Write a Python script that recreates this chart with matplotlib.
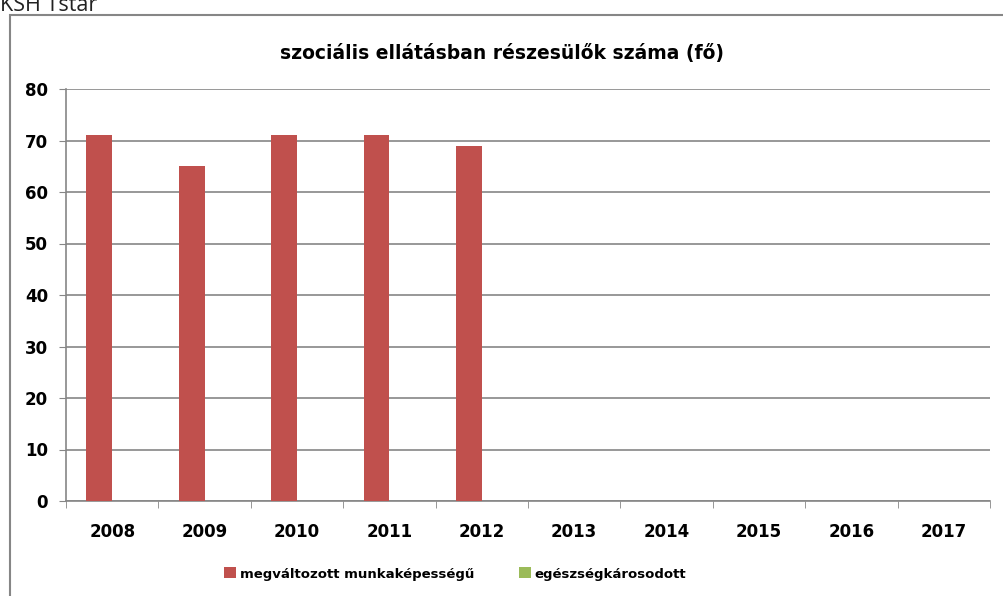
import matplotlib
matplotlib.use('Agg')
import matplotlib.pyplot as plt
from matplotlib.patches import Rectangle

# adatok
evek = ['2008', '2009', '2010', '2011', '2012', '2013', '2014', '2015', '2016', '2017']
megvaltozott = [71, 65, 71, 71, 69, None, None, None, None, None]
egeszsegkarosodott = [None] * 10

cim = 'szociális ellátásban részesülők száma (fő)'
sorozatok = ['megváltozott munkaképességű', 'egészségkárosodott']

PIROS = '#C0504D'
ZOLD = '#9BBB59'
SZURKE = '#868686'

plt.rcParams['font.family'] = ['DejaVu Sans']

fig = plt.figure(figsize=(10.04, 5.96), dpi=100)

# diagram kerete
fig.add_artist(Rectangle((10 / 1004, -0.1), 1.1, 1 - 15 / 596 + 0.1,
                         transform=fig.transFigure, fill=False,
                         edgecolor=SZURKE, linewidth=1.5))
fig.text(0.0, 1 - 11 / 596, 'KSH Tstar', fontsize=15.5, color='#222222',
         ha='left', va='baseline', family='Open Sans')

ax = fig.add_axes([66 / 1004, 1 - 501 / 596, (990 - 66) / 1004, (501 - 89) / 596])

x = list(range(len(evek)))
y1 = [v if v is not None else 0 for v in megvaltozott]
y2 = [v if v is not None else 0 for v in egeszsegkarosodott]
w = 0.28
ax.bar([i - w / 2 for i in x], y1, width=w, color=PIROS, label=sorozatok[0], zorder=3)
ax.bar([i + w / 2 for i in x], y2, width=w, color=ZOLD, label=sorozatok[1], zorder=3)

ax.set_xlim(-0.5, len(evek) - 0.5)
ax.set_ylim(0, 80)
ax.set_yticks(range(0, 81, 10))
ax.set_xticks(x)
ax.set_xticklabels(evek)
ax.set_xticks([i - 0.5 for i in range(len(evek) + 1)], minor=True)
ax.tick_params(axis='x', which='major', length=0, pad=16)
ax.tick_params(axis='x', which='minor', length=5, color=SZURKE, direction='out')
ax.tick_params(axis='y', length=5, color=SZURKE, pad=8)
for lab in ax.get_xticklabels() + ax.get_yticklabels():
    lab.set_fontweight('bold')
    lab.set_fontsize(12)

ax.grid(axis='y', color=SZURKE, linewidth=1.2, zorder=0)
for s in ['top', 'right']:
    ax.spines[s].set_visible(False)
ax.spines['left'].set_color(SZURKE)
ax.spines['bottom'].set_color(SZURKE)
ax.spines['left'].set_linewidth(1.2)
ax.spines['bottom'].set_linewidth(1.2)

fig.text(0.5, 1 - 53 / 596, cim, ha='center', va='center',
         fontsize=13.5, fontweight='bold')

fig.legend(loc='center', bbox_to_anchor=(455 / 1004, 1 - 574 / 596), ncol=2,
           frameon=False, handlelength=0.9, handleheight=0.9,
           handletextpad=0.3, columnspacing=3.4,
           prop={'weight': 'bold', 'size': 9.5})

fig.savefig('out.png', dpi=100)
